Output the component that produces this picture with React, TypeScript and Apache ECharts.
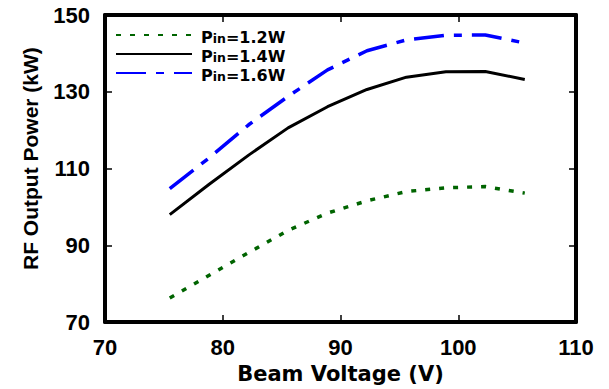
import React, { useEffect, useRef } from "react";
import * as echarts from "echarts";

const beamVoltage = [75.5, 78.85, 82.2, 85.55, 88.9, 92.25, 95.6, 98.95, 102.3, 105.65];
const power12 = [76.3, 82.2, 88.1, 93.9, 98.4, 101.6, 104.0, 105.0, 105.3, 103.6];
const power14 = [98.0, 105.9, 113.5, 120.6, 126.1, 130.6, 133.8, 135.2, 135.3, 133.2];
const power16 = [104.8, 112.8, 121.4, 128.8, 135.7, 140.7, 143.5, 144.7, 144.8, 142.7];
const seriesNames = ["Pin=1.2W", "Pin=1.4W", "Pin=1.6W"];

const pair = (ys: number[]) => beamVoltage.map((x, i) => [x, ys[i]]);

export default function App() {
  const ref = useRef<HTMLDivElement>(null);
  useEffect(() => {
    if (!ref.current) return;
    const chart = echarts.init(ref.current, null, { renderer: "svg" });
    const tickFont = { fontFamily: "Liberation Sans", fontWeight: "bold" as const, fontSize: 22, color: "#000" };
    const axisLine = { show: true, lineStyle: { color: "#000", width: 4 } };
    const axisTick = { show: true, inside: true, length: 7, lineStyle: { color: "#000", width: 1.5 } };
    chart.setOption({
      animation: false,
      backgroundColor: "#fff",
      grid: { left: 105, right: 33, top: 15, bottom: 65, show: false },
      legend: {
        orient: "vertical",
        left: 110,
        top: 24,
        itemWidth: 76,
        itemHeight: 10,
        itemGap: 3,
        itemStyle: { opacity: 0 },
        data: seriesNames,
        formatter: (n: string) => `{a|P}{b|in}{a|${n.slice(3)}}`,
        textStyle: {
          padding: [0, 0, 0, 4],
          rich: {
            a: { fontFamily: "DejaVu Sans", fontWeight: "bold", fontSize: 16, color: "#000", lineHeight: 20, verticalAlign: "bottom" },
            b: { fontFamily: "DejaVu Sans", fontWeight: "bold", fontSize: 12.5, color: "#000", lineHeight: 11, verticalAlign: "bottom" },
          },
        },
      },
      xAxis: [
        {
          type: "value",
          min: 70,
          max: 110,
          interval: 10,
          position: "bottom",
          axisLine,
          axisTick,
          splitLine: { show: false },
          axisLabel: { ...tickFont, margin: 14 },
          name: "Beam Voltage (V)",
          nameLocation: "middle",
          nameGap: 38,
          nameTextStyle: { fontFamily: "DejaVu Sans", fontWeight: "bold", fontSize: 21, color: "#000" },
        },
        {
          type: "value",
          min: 70,
          max: 110,
          interval: 10,
          position: "top",
          axisLine,
          axisTick,
          splitLine: { show: false },
          axisLabel: { show: false },
        },
      ],
      yAxis: [
        {
          type: "value",
          min: 70,
          max: 150,
          interval: 20,
          position: "left",
          axisLine,
          axisTick,
          splitLine: { show: false },
          axisLabel: { ...tickFont, margin: 15 },
          name: "RF Output Power (kW)",
          nameLocation: "middle",
          nameGap: 64,
          nameTextStyle: { fontFamily: "Liberation Sans", fontWeight: "bold", fontSize: 21, color: "#000", padding: [0, 0, 0, 20] },
        },
        {
          type: "value",
          min: 70,
          max: 150,
          interval: 20,
          position: "right",
          axisLine,
          axisTick,
          splitLine: { show: false },
          axisLabel: { show: false },
        },
      ],
      series: [
        {
          name: seriesNames[0],
          type: "line",
          data: pair(power12),
          symbol: "none",
          lineStyle: { color: "#006400", width: 3.5, type: [5, 9] },
          itemStyle: { color: "#006400" },
        },
        {
          name: seriesNames[1],
          type: "line",
          data: pair(power14),
          symbol: "none",
          lineStyle: { color: "#000", width: 3 },
          itemStyle: { color: "#000" },
        },
        {
          name: seriesNames[2],
          type: "line",
          data: pair(power16),
          symbol: "none",
          lineStyle: { color: "#0000ff", width: 3.5, type: [30, 10, 8, 10] },
          itemStyle: { color: "#0000ff" },
        },
      ],
    });
    return () => chart.dispose();
  }, []);
  return <div ref={ref} style={{ position: "fixed", left: 0, top: 0, width: 609, height: 389 }} />;
}
